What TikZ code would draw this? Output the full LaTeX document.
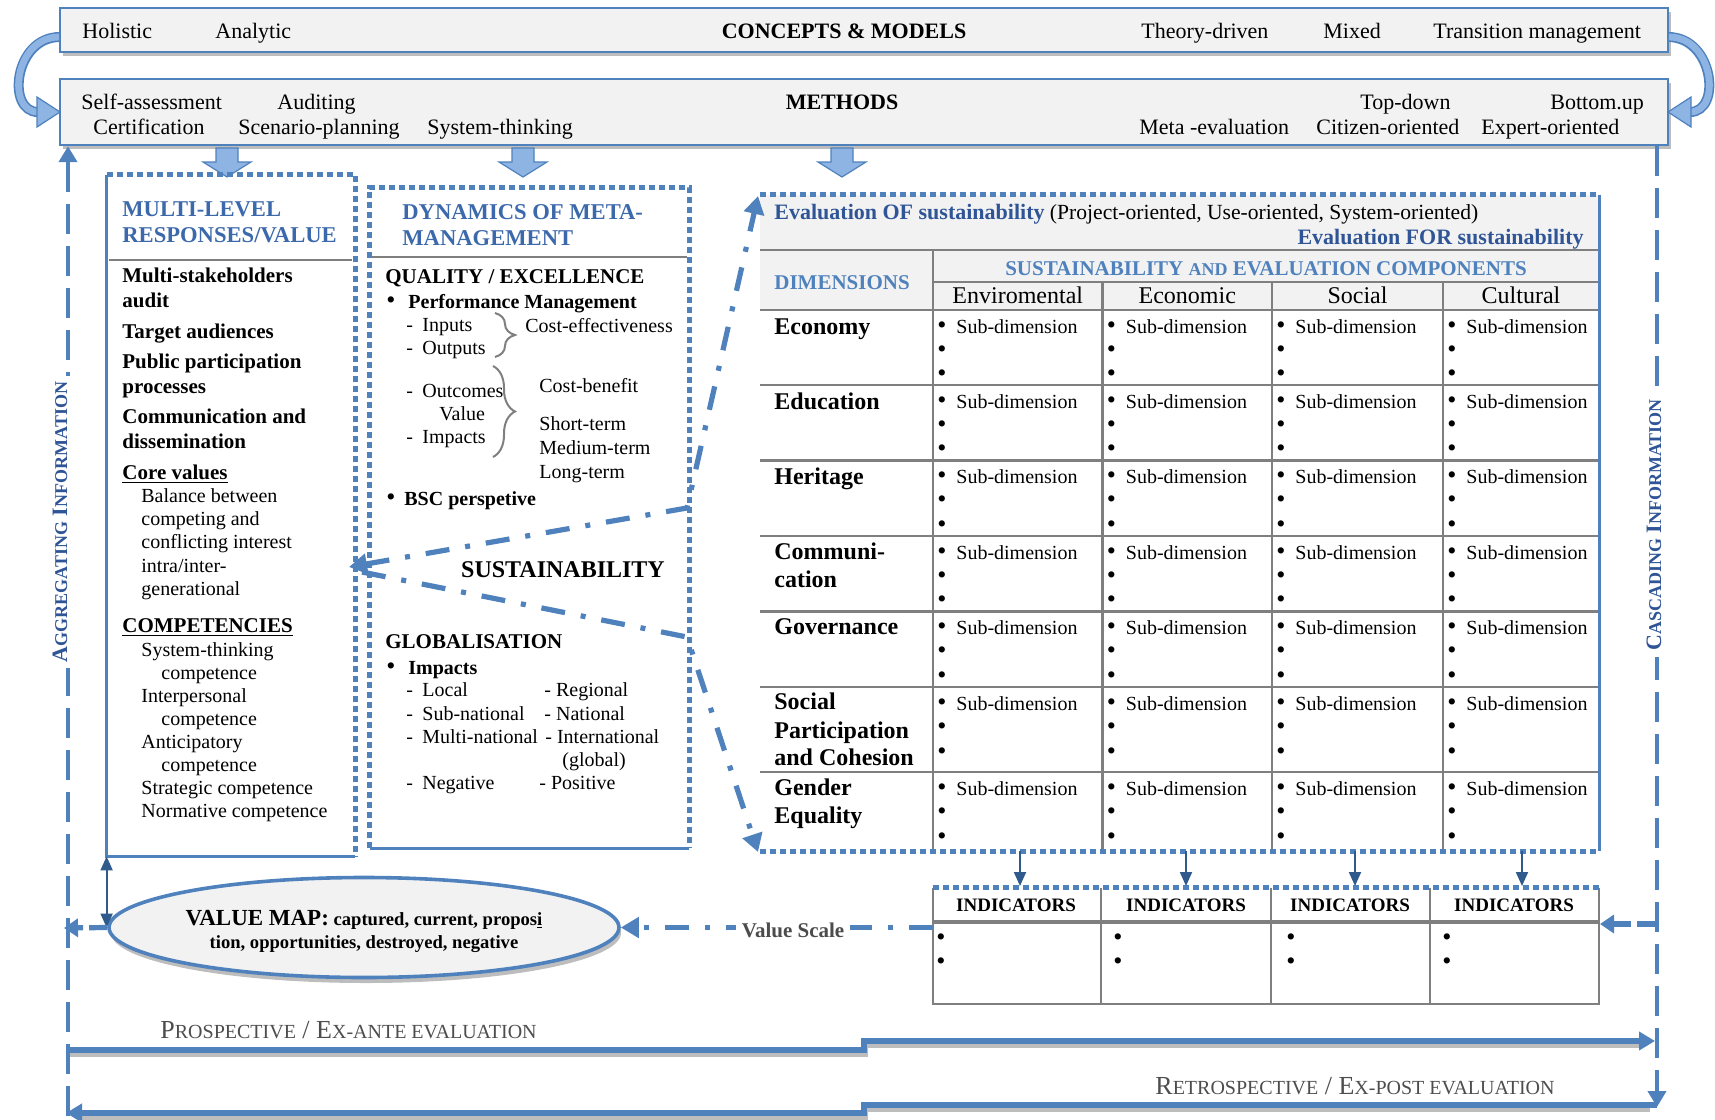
\documentclass[tikz,border=0pt]{standalone}
\usepackage{fontspec}
\setmainfont{Liberation Serif}
\usetikzlibrary{arrows.meta,calc,fit,decorations.pathreplacing,shapes.geometric}
\definecolor{bbd}{HTML}{4F81BD}
\definecolor{lightarrow}{HTML}{8EB4E3}
\definecolor{headblue}{HTML}{3C69AB}
\definecolor{evalblue}{HTML}{2F5597}
\definecolor{dimblue}{HTML}{4F81BD}
\definecolor{boxfill}{HTML}{F2F2F2}
\definecolor{gridgray}{HTML}{7F7F7F}
\definecolor{shadowgray}{HTML}{BDBDBD}
\definecolor{darkarrow}{HTML}{2E5A8C}
\definecolor{txtgray}{HTML}{4D4D4D}
\newcommand\fsz[1]{\fontsize{#1}{#1}\selectfont}
\newcommand\smc[1]{{\fontsize{9}{9}\selectfont #1}}
\newcommand\smcb[1]{{\fontsize{10}{10}\selectfont #1}}
\begin{document}
\begin{tikzpicture}[x=0.5pt,y=-0.5pt,
  txt/.style={anchor=mid west, inner sep=0pt, yshift=-1.7pt, font=\fsz{10}},
  btxt/.style={anchor=mid west, inner sep=0pt, yshift=-1.7pt, font=\fsz{10.5}\bfseries},
  hdr/.style={anchor=mid west, inner sep=0pt, yshift=-1.7pt, font=\fsz{11.3}\bfseries, text=headblue},
  toptxt/.style={anchor=mid west, inner sep=0pt, yshift=-1.7pt, font=\fsz{11}},
  rowlbl/.style={anchor=mid west, inner sep=0pt, yshift=-1.7pt, font=\fsz{12}\bfseries},
  coltxt/.style={anchor=mid, inner sep=0pt, yshift=-1.7pt, font=\fsz{12}},
  celltxt/.style={anchor=mid west, inner sep=0pt, yshift=-1.7pt, font=\fsz{10}},
  bul/.style={anchor=mid, inner sep=0pt, yshift=-1.7pt, font=\fsz{13}},
  dotb/.style={draw=bbd, line width=2.2pt, dash pattern=on 3pt off 2pt},
  solb/.style={draw=bbd, line width=1.6pt},
  gridl/.style={draw=gridgray, line width=1.1pt},
  dashdotl/.style={draw=bbd, line width=2.6pt, dash pattern=on 12pt off 8pt on 2.5pt off 8pt},
  longdash/.style={draw=bbd, line width=2.4pt, dash pattern=on 15pt off 6pt},
  bigtip/.style={-{Triangle[length=9pt,width=10pt]}},
  thinarr/.style={draw=darkarrow, line width=1pt, -{Triangle[length=7pt,width=6pt]}},
  evalline/.style={draw=bbd, line width=2.8pt},
  evalshadow/.style={draw=shadowgray, line width=2pt},
  blockarrow/.style={fill=lightarrow, draw=bbd, line width=0.6pt},
]
\useasboundingbox (0,0) rectangle (1715,1120);

% ---------- top bands ----------
\fill[shadowgray] (63,12) rectangle (1671,56);
\node[fit={(60,8) (1668,52)}, inner sep=0pt, fill=boxfill, draw=bbd, line width=1.2pt] (concepts) {};
\fill[shadowgray] (63,83) rectangle (1671,149);
\node[fit={(60,79) (1668,145)}, inner sep=0pt, fill=boxfill, draw=bbd, line width=1.2pt] (methods) {};

\node[toptxt] (holistic) at (82,31) {Holistic};
\node[toptxt] (analytic) at (215,31) {Analytic};
\node[anchor=mid, inner sep=0pt, yshift=-1.7pt, font=\fsz{11}\bfseries] (cm) at (844,31) {CONCEPTS \& MODELS};
\node[toptxt] (theory) at (1141,31) {Theory-driven};
\node[toptxt] (mixed) at (1323,31) {Mixed};
\node[toptxt] (transition) at (1433,31) {Transition management};

\node[toptxt] (selfa) at (81,102) {Self-assessment};
\node[toptxt] (audit) at (277,102) {Auditing};
\node[anchor=mid, inner sep=0pt, yshift=-1.7pt, font=\fsz{11}\bfseries] (meth) at (842,102) {METHODS};
\node[toptxt] (topdown) at (1360,102) {Top-down};
\node[toptxt] (bottomup) at (1550,102) {Bottom.up};
\node[toptxt] (certif) at (93,127) {Certification};
\node[toptxt] (scen) at (238,127) {Scenario-planning};
\node[toptxt] (systh) at (427,127) {System-thinking};
\node[toptxt] (metaev) at (1139,127) {Meta -evaluation};
\node[toptxt] (citizen) at (1316,127) {Citizen-oriented};
\node[toptxt] (expert) at (1481,127) {Expert-oriented};

% curved block arrows
\draw[line width=5pt, bbd] (60,37) .. controls (14,37) and (6,112) .. (38,112);
\draw[line width=3.4pt, lightarrow] (59,37) .. controls (14,37) and (6,112) .. (38,112);
\filldraw[blockarrow] (37,97) -- (60,112) -- (37,127) -- cycle;
\draw[line width=5pt, bbd] (1668,37) .. controls (1714,37) and (1722,112) .. (1690,112);
\draw[line width=3.4pt, lightarrow] (1669,37) .. controls (1714,37) and (1722,112) .. (1690,112);
\filldraw[blockarrow] (1691,97) -- (1668,112) -- (1691,127) -- cycle;

% down block arrows
\foreach \x in {227,523,842}{
  \filldraw[blockarrow] (\x-11,148) -- (\x+11,148) -- (\x+11,162) -- (\x+24,162) -- (\x,177) -- (\x-24,162) -- (\x-11,162) -- cycle;
}

% ---------- multi-level box ----------
\node[fit={(107,175) (355,856)}, inner sep=0pt] (multi) {};
\draw[dotb] (multi.north west) -- (multi.north east) -- (multi.south east);
\draw[solb] (multi.north west) -- (multi.south west) -- (multi.south east);
\draw[gridl] (109,260) -- (352,260);
\node[hdr] (mlh1) at (122,209) {MULTI-LEVEL};
\node[hdr] (mlh2) at (122,235) {RESPONSES/VALUE};
\foreach \y/\t [count=\i] in {274.5/Multi-stakeholders, 299.7/audit, 330.3/Target audiences, 361/Public participation, 386/processes, 415.6/Communication and, 440.8/dissemination, 471.4/\underline{Core values}, 624.5/\underline{COMPETENCIES}}
  \node[btxt] (ml\i) at (122,\y) {\t};
\foreach \x/\y/\t [count=\i] in {141/494.4/Balance between, 141/517.3/competing and, 141/540.3/conflicting interest, 141/564.4/{intra/inter-}, 141/587.3/generational, 141/648.6/System-thinking, 161/671.6/competence, 141/694.5/Interpersonal, 161/717.5/competence, 141/740.5/Anticipatory, 161/763.4/competence, 141/786.4/Strategic competence, 141/809.4/Normative competence}
  \node[txt] (mr\i) at (\x,\y) {\t};

% ---------- dynamics box ----------
\node[fit={(370,188) (689,848)}, inner sep=0pt] (dyn) {};
\draw[dotb] (dyn.south west) -- (dyn.north west) -- (dyn.north east) -- (dyn.south east);
\draw[solb] (dyn.south west) -- (dyn.south east);
\draw[gridl] (372,257) -- (687,257);
\node[hdr] (dyh1) at (402,212) {DYNAMICS OF META-};
\node[hdr] (dyh2) at (402,238) {MANAGEMENT};
\node[btxt] (qual) at (385,276) {QUALITY / EXCELLENCE};
\node[bul] (pmb) at (391,301) {•};
\node[txt, font=\fsz{10}\bfseries] (pm) at (408,301) {Performance Management};
\foreach \y/\t [count=\i] in {324/Inputs, 347/Outputs, 390/Outcomes, 436/Impacts, 689/Local, 712/Sub-national, 735/Multi-national, 781/Negative}{
  \node[txt] (dd\i) at (406,\y) {-};
  \node[txt] (dt\i) at (422,\y) {\t};
}
\node[txt] (value) at (439,413) {Value};
\draw[gridgray, line width=1pt, decorate, decoration={brace, amplitude=10pt}] (495,313) -- (495,357);
\draw[gridgray, line width=1pt, decorate, decoration={brace, amplitude=11pt}] (493,366) -- (493,457);
\node[txt] (costeff) at (525,325) {Cost-effectiveness};
\node[txt] (costben) at (539,385) {Cost-benefit};
\node[txt] (short) at (539,423) {Short-term};
\node[txt] (medium) at (539,447) {Medium-term};
\node[txt] (long) at (539,471) {Long-term};
\node[bul] (bscb) at (391,498) {•};
\node[txt, font=\fsz{10}\bfseries] (bsc) at (404,498) {BSC perspetive};

\node[anchor=mid, inner sep=0pt, yshift=-1.7pt, font=\fsz{12}\bfseries] (sust) at (563,570) {SUSTAINABILITY};

\node[btxt] (glob) at (385,641) {GLOBALISATION};
\node[bul] (impb) at (391,667) {•};
\node[txt, font=\fsz{10}\bfseries] (imp) at (408,667) {Impacts};
\node[txt] (regional) at (544,689) {- Regional};
\node[txt] (national) at (544,712) {- National};
\node[txt] (internat) at (545,735) {- International};
\node[txt] (global) at (562,758) {(global)};
\node[txt] (positive) at (539,781) {- Positive};

% ---------- main table ----------
\node[fit={(760,195) (1599,851)}, inner sep=0pt] (tab) {};
\fill[boxfill] (760,195) rectangle (1599,310);
\draw[gridl] (760,250) -- (1599,250);
\draw[gridl] (933,282) -- (1599,282);
\draw[gridl] (933,250) -- (933,851);
\foreach \x in {1102.5,1272,1443} \draw[gridl] (\x,282) -- (\x,851);
\foreach \y in {310,385,460.5,536,611.4,687,772} \draw[gridl] (760,\y) -- (1599,\y);
\draw[dotb] (tab.north west) -- (tab.north east);
\draw[dotb] (tab.south west) -- (tab.south east);
\draw[solb] (tab.north east) -- (tab.south east);

\node[txt, font=\fsz{10.8}] (evof) at (774,212) {\textcolor{evalblue}{\fsz{11}\bfseries Evaluation OF sustainability} (Project-oriented, Use-oriented, System-oriented)};
\node[anchor=mid east, inner sep=0pt, yshift=-1.7pt, font=\fsz{11}\bfseries, text=evalblue] (evfor) at (1584,237) {Evaluation FOR sustainability};
\node[txt, font=\fsz{10.5}\bfseries, text=dimblue] (dims) at (774,282) {DIMENSIONS};
\node[anchor=mid, inner sep=0pt, yshift=-1.7pt, font=\fsz{10.5}\bfseries, text=dimblue] (sec) at (1266,268) {SUSTAINABILITY \smc{AND} EVALUATION COMPONENTS};
\node[coltxt] (c1) at (1017.75,296) {Enviromental};
\node[coltxt] (c2) at (1187.25,296) {Economic};
\node[coltxt] (c3) at (1357.5,296) {Social};
\node[coltxt] (c4) at (1521,296) {Cultural};

\node[rowlbl] (r1) at (774,327) {Economy};
\node[rowlbl] (r2) at (774,402) {Education};
\node[rowlbl] (r3) at (774,477) {Heritage};
\node[rowlbl] (r4a) at (774,552) {Communi-};
\node[rowlbl] (r4b) at (774,580) {cation};
\node[rowlbl] (r5) at (774,627) {Governance};
\node[rowlbl] (r6a) at (774,702) {Social};
\node[rowlbl] (r6b) at (774,730) {Participation};
\node[rowlbl] (r6c) at (774,757) {and Cohesion};
\node[rowlbl] (r7a) at (774,787) {Gender};
\node[rowlbl] (r7b) at (774,815) {Equality};

\foreach \T [count=\r] in {310,385,460.5,536,611.4,687,772}{
  \foreach \C [count=\c] in {933,1102.5,1272,1443}{
    \node[bul] (ba\r\c) at (\C+9,\T+15.3) {•};
    \node[celltxt] (sd\r\c) at (\C+23,\T+15.3) {Sub-dimension};
    \node[bul] (bb\r\c) at (\C+9,\T+39.5) {•};
    \node[bul] (bc\r\c) at (\C+9,\T+64) {•};
  }
}

% ---------- indicators ----------
\node[fit={(933,888) (1599,1004)}, inner sep=0pt] (indic) {};
\draw[gridl] (933,888) -- (933,1004) -- (1599,1004) -- (1599,888);
\foreach \x in {1101,1271,1430} \draw[gridl] (\x,888) -- (\x,1004);
\draw[gridgray, line width=1.7pt] (933,922) -- (1599,922);
\draw[dotb] (indic.north west) -- (indic.north east);
\foreach \cx/\bx [count=\i] in {1016/941,1186/1118,1350/1291,1514/1447}{
  \node[anchor=mid, inner sep=0pt, yshift=-1.7pt, font=\fsz{9.5}\bfseries] (ind\i) at (\cx,903) {INDICATORS};
  \node[bul] (ib\i a) at (\bx,937) {•};
  \node[bul] (ib\i b) at (\bx,961) {•};
}
\foreach \x [count=\i] in {1020,1186,1355,1522}{
  \coordinate (ts\i) at (\x,851);
  \coordinate (ie\i) at (\x,886);
  \draw[thinarr] (ts\i) -- (ie\i);
}

% ---------- value map ----------
\fill[shadowgray] (366,933) ellipse [x radius=255, y radius=50];
\node[ellipse, draw=bbd, line width=1.8pt, fill=boxfill, minimum width=255pt, minimum height=50pt, inner sep=0pt] (valuemap) at (364,927.5) {};
\node[align=center, inner sep=0pt, font=\fontsize{9.3}{11.5}\selectfont\bfseries] (vmtext) at (364,931) {{\fontsize{11.5}{11.5}\selectfont VALUE MAP:} captured, current, propos\underline{i}\\tion, opportunities, destroyed, negative};
\draw[darkarrow, line width=1pt, {Triangle[length=7pt,width=6pt]}-{Triangle[length=7pt,width=6pt]}] (multi.south west) -- (multi.south west |- valuemap.west);
\draw[dashdotl, bigtip] (indic.west |- valuemap.east) -- (valuemap.east);
\node[anchor=mid, fill=white, inner sep=3pt, yshift=-1.7pt, font=\fsz{10.5}\bfseries, text=black!70] (vscale) at (793,929) {Value Scale};

% ---------- sustainability connectors ----------
\coordinate (sustip) at (349,567);
\coordinate (upbend) at (687,508);
\coordinate (lowbend) at (687,637);
\coordinate (uptip) at (758,196);
\coordinate (lowtip) at (758,852);
\draw[dashdotl, {Triangle[length=9pt,width=10pt]}-{Triangle[length=9pt,width=10pt]}] (sustip) -- (upbend) -- (uptip);
\draw[dashdotl, -{Triangle[length=9pt,width=10pt]}] (362,572) -- (lowbend) -- (lowtip);

% ---------- side information lines ----------
\coordinate (aggbot) at (68,1116);
\draw[longdash, -{Triangle[length=8pt,width=9pt]}] (aggbot) -- (aggbot |- methods.south);
\coordinate (cascbot) at (1657,1107);
\draw[longdash, -{Triangle[length=8pt,width=9pt]}] (cascbot |- methods.south) -- (cascbot);
\node[rotate=90, fill=white, inner sep=3pt, text=evalblue, font=\fsz{11}\bfseries] (agg) at (60,522) {A\smc{GGREGATING} I\smc{NFORMATION}};
\node[rotate=90, fill=white, inner sep=3pt, text=evalblue, font=\fsz{11}\bfseries] (casc) at (1654,525) {C\smc{ASCADING} I\smc{NFORMATION}};

\coordinate (vmleft) at (64,928);
\draw[bbd, line width=2.6pt, dash pattern=on 9pt off 3pt, -{Triangle[length=7pt,width=9pt]}] (valuemap.west) -- (vmleft);
\coordinate (indright) at (1655,924);
\draw[bbd, line width=2.6pt, dash pattern=on 9pt off 3pt, -{Triangle[length=7pt,width=9pt]}] (indright) -- (1600,924);

% ---------- evaluation arrows ----------
\coordinate (prosA) at (68,1050);
\coordinate (prosB) at (1655,1041);
\coordinate (retA) at (1657,1105);
\coordinate (retB) at (66,1113);
\draw[evalshadow] (70,1055) -- (866,1055) -- (866,1046) -- (1640,1046);
\draw[evalline, -{Triangle[length=8pt,width=9pt]}] (prosA) -- (864,1050) -- (864,1041) -- (prosB);
\draw[evalshadow] (1650,1110) -- (866,1110) -- (866,1118) -- (80,1118);
\draw[evalline, -{Triangle[length=8pt,width=9pt]}] (retA) -- (864,1105) -- (864,1113) -- (retB);
\node[anchor=mid west, inner sep=0pt, yshift=-1.7pt, font=\fsz{13}, text=txtgray] (prosp) at (160,1030) {P\smcb{ROSPECTIVE} / E\smcb{X-ANTE EVALUATION}};
\node[anchor=mid east, inner sep=0pt, yshift=-1.7pt, font=\fsz{13}, text=txtgray] (retro) at (1555,1086) {R\smcb{ETROSPECTIVE} / E\smcb{X-POST EVALUATION}};
\end{tikzpicture}
\end{document}
